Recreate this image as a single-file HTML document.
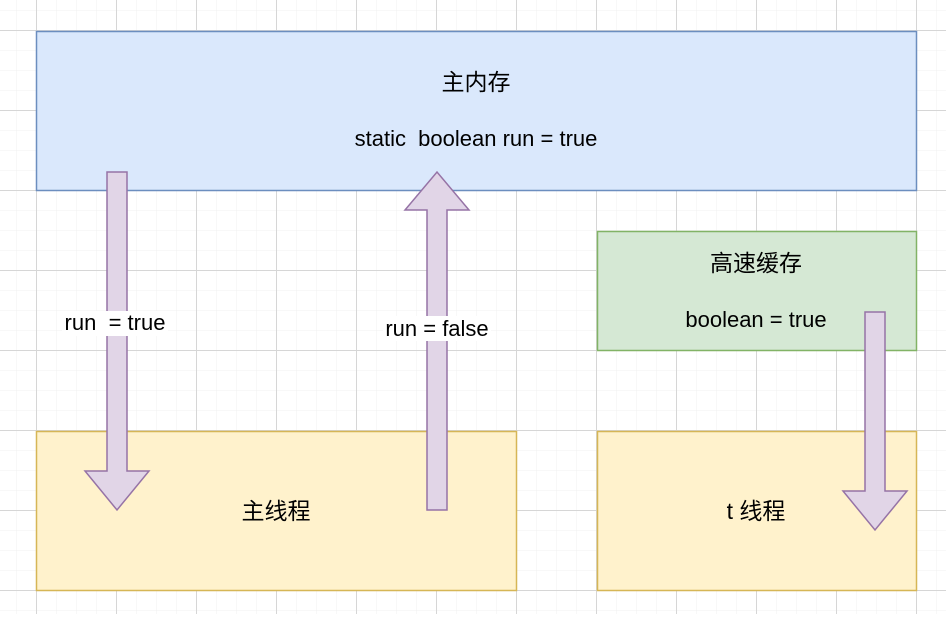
<!DOCTYPE html>
<html><head><meta charset="utf-8"><style>
body{margin:0;width:946px;height:614px;overflow:hidden;background:#fff}
text{font-family:"Liberation Sans","Noto Sans CJK SC",sans-serif;font-size:22px;fill:#000}
text.c{font-size:23px}
</style></head><body>
<svg width="946" height="614" xmlns="http://www.w3.org/2000/svg">
<defs>
<pattern id="minor" x="-4" y="-10" width="20" height="20" patternUnits="userSpaceOnUse"><path d="M0 0H20M0 0V20" stroke="#f0f0f0" stroke-width="1" fill="none"/></pattern>
<pattern id="major" x="36" y="30" width="80" height="80" patternUnits="userSpaceOnUse"><path d="M0 0.5H80M0.5 0V80" stroke="#d6d6d6" stroke-width="1" fill="none"/></pattern>
</defs>
<rect width="946" height="614" fill="url(#minor)"/>
<rect width="946" height="614" fill="url(#major)"/>
<rect x="36.5" y="31.5" width="880" height="159" fill="#dae8fc" stroke="#6c8ebf" stroke-width="1.5"/>
<text class="c" x="476" y="90" text-anchor="middle">主内存</text>
<text x="476" y="146" text-anchor="middle" xml:space="preserve">static  boolean run = true</text>
<rect x="597.5" y="231.5" width="319" height="119" fill="#d5e8d4" stroke="#82b366" stroke-width="1.5"/>
<text class="c" x="756" y="271" text-anchor="middle">高速缓存</text>
<text x="756" y="327" text-anchor="middle">boolean = true</text>
<rect x="36.5" y="431.5" width="480" height="159" fill="#fff2cc" stroke="#d6b656" stroke-width="1.5"/>
<text class="c" x="276" y="519" text-anchor="middle">主线程</text>
<rect x="597.5" y="431.5" width="319" height="159" fill="#fff2cc" stroke="#d6b656" stroke-width="1.5"/>
<text class="c" x="756" y="519" text-anchor="middle">t 线程</text>
<g fill="#e1d5e7" stroke="#9673a6" stroke-width="1.5">
<polygon points="107,172 127,172 127,471 149,471 117,510 85,471 107,471"/>
<polygon points="427,510 447,510 447,210 469,210 437,172 405,210 427,210"/>
<polygon points="865,312 885,312 885,491 907,491 875,530 843,491 865,491"/>
</g>
<rect x="62" y="311" width="106" height="25" fill="#fff"/>
<text x="115" y="330" text-anchor="middle" xml:space="preserve">run  = true</text>
<rect x="383" y="316" width="108" height="25" fill="#fff"/>
<text x="437" y="336" text-anchor="middle">run = false</text>
</svg>
</body></html>
